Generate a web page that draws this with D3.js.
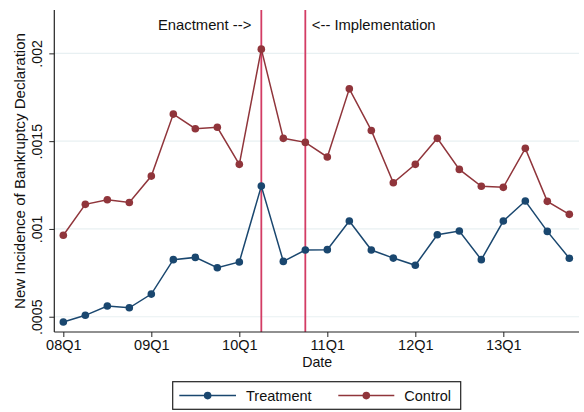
<!DOCTYPE html>
<html>
<head>
<meta charset="utf-8">
<script src="https://cdn.jsdelivr.net/npm/d3@7/dist/d3.min.js"></script>
<style>
  html, body { margin: 0; padding: 0; background: #fff; }
  svg { display: block; font-family: Arial, "Liberation Sans", Helvetica, sans-serif; }
</style>
</head>
<body>
<svg id="chart" width="584" height="412"></svg>
<script>
// Quarters 08Q1 .. 13Q4
const quarters = ["08Q1","08Q2","08Q3","08Q4","09Q1","09Q2","09Q3","09Q4",
                  "10Q1","10Q2","10Q3","10Q4","11Q1","11Q2","11Q3","11Q4",
                  "12Q1","12Q2","12Q3","12Q4","13Q1","13Q2","13Q3","13Q4"];

const treatment = [0.00047, 0.000508, 0.000561, 0.000551, 0.000629, 0.000825, 0.000838, 0.000779,
                   0.000812, 0.001244, 0.000815, 0.00088, 0.000882, 0.001045, 0.00088, 0.000834,
                   0.000793, 0.000967, 0.000988, 0.000825, 0.001045, 0.001159, 0.000986, 0.000833];

const control = [0.000964, 0.00114, 0.001166, 0.001151, 0.001301, 0.001654, 0.001571, 0.001579,
                 0.001368, 0.002024, 0.001516, 0.001493, 0.00141, 0.001798, 0.001561, 0.001263,
                 0.001368, 0.001516, 0.001339, 0.001243, 0.001237, 0.001459, 0.001157, 0.001083];

const xTickLabels = ["08Q1", "09Q1", "10Q1", "11Q1", "12Q1", "13Q1"];
const yTicks = [0.0005, 0.001, 0.0015, 0.002];
const yTickLabels = [".0005", ".001", ".0015", ".002"];

const events = [
  { quarter: "10Q2", label: "Enactment -->", side: "left" },
  { quarter: "10Q4", label: "<-- Implementation", side: "right" }
];

const seriesList = [
  { name: "Treatment", values: treatment, color: "#1a476f" },
  { name: "Control", values: control, color: "#90353b" }
];

const svg = d3.select("#chart");
const plot = { left: 54.3, right: 579, top: 10, bottom: 332 };
const fontSize = 14.5;

const qIndex = q => quarters.indexOf(q);

const x = d3.scaleLinear().domain([-0.41, 23.44]).range([plot.left, plot.right]);
const y = d3.scaleLinear().domain([0.000413, 0.002247]).range([plot.bottom, plot.top]);

// Horizontal grid lines
svg.append("g")
  .selectAll("line")
  .data(yTicks)
  .join("line")
  .attr("x1", plot.left).attr("x2", plot.right)
  .attr("y1", d => y(d)).attr("y2", d => y(d))
  .attr("stroke", "#e8f0f2").attr("stroke-width", 1.2);

// Event markers
const ev = svg.append("g");
events.forEach(e => {
  const xp = x(qIndex(e.quarter));
  ev.append("line")
    .attr("x1", xp).attr("x2", xp)
    .attr("y1", plot.top).attr("y2", plot.bottom)
    .attr("stroke", "#d33c64").attr("stroke-width", 1.8);
  ev.append("text")
    .attr("x", e.side === "left" ? xp - 10 : xp + 6.5)
    .attr("y", 25)
    .attr("dy", "0.35em")
    .attr("text-anchor", e.side === "left" ? "end" : "start")
    .attr("font-size", 14.8)
    .attr("fill", "#111")
    .text(e.label);
});

// Series lines and markers
const line = d3.line().x((d, i) => x(i)).y(d => y(d));
seriesList.forEach(s => {
  const g = svg.append("g");
  g.append("path")
    .datum(s.values)
    .attr("d", line)
    .attr("fill", "none")
    .attr("stroke", s.color)
    .attr("stroke-width", 1.5);
  g.selectAll("circle")
    .data(s.values)
    .join("circle")
    .attr("cx", (d, i) => x(i))
    .attr("cy", d => y(d))
    .attr("r", 3.8)
    .attr("fill", s.color);
});

// Y axis
const yAxis = d3.axisLeft(y)
  .tickValues(yTicks)
  .tickFormat((d, i) => yTickLabels[i])
  .tickSize(5)
  .tickSizeOuter(0);
const yg = svg.append("g")
  .attr("transform", `translate(${plot.left},0)`)
  .call(yAxis);
yg.select(".domain").attr("stroke", "#222").attr("stroke-width", 1.2)
  .attr("d", `M0,${plot.top}V${plot.bottom}`);
yg.selectAll(".tick line").attr("stroke", "#222");
yg.selectAll(".tick text")
  .attr("font-size", 14.2)
  .attr("fill", "#111")
  .attr("font-family", null)
  .attr("x", null).attr("dy", null)
  .attr("text-anchor", "middle")
  .attr("transform", "translate(-12,0) rotate(-90)")
  .attr("y", 0);

// X axis
const xAxis = d3.axisBottom(x)
  .tickValues(xTickLabels.map(qIndex))
  .tickFormat(d => quarters[d])
  .tickSize(5)
  .tickSizeOuter(0);
const xg = svg.append("g")
  .attr("transform", `translate(0,${plot.bottom})`)
  .call(xAxis);
xg.select(".domain").attr("stroke", "#222").attr("stroke-width", 1.2)
  .attr("d", `M${plot.left},0H${plot.right}`);
xg.selectAll(".tick line").attr("stroke", "#222");
xg.selectAll(".tick text")
  .attr("font-size", fontSize)
  .attr("font-family", null)
  .attr("fill", "#111")
  .attr("y", 8)
  .attr("dy", "0.71em");

// Axis titles
svg.append("text")
  .attr("x", (plot.left + 579) / 2 + 0.5)
  .attr("y", 367)
  .attr("text-anchor", "middle")
  .attr("font-size", 14.2)
  .attr("fill", "#111")
  .text("Date");

svg.append("text")
  .attr("transform", `translate(24.5,${(plot.top + plot.bottom) / 2}) rotate(-90)`)
  .attr("text-anchor", "middle")
  .attr("font-size", 15.1)
  .attr("fill", "#111")
  .text("New Incidence of Bankruptcy Declaration");

// Legend
const legend = svg.append("g");
legend.append("rect")
  .attr("x", 172.7).attr("y", 381.7)
  .attr("width", 288).attr("height", 27.6)
  .attr("fill", "#fff").attr("stroke", "#222").attr("stroke-width", 1.2);
const legendItems = [
  { s: seriesList[0], x0: 179.3, x1: 236, tx: 246 },
  { s: seriesList[1], x0: 338.3, x1: 394.3, tx: 404.3 }
];
const ly = 395.6;
legendItems.forEach(it => {
  legend.append("line")
    .attr("x1", it.x0).attr("x2", it.x1)
    .attr("y1", ly).attr("y2", ly)
    .attr("stroke", it.s.color).attr("stroke-width", 1.5);
  legend.append("circle")
    .attr("cx", (it.x0 + it.x1) / 2).attr("cy", ly).attr("r", 3.8)
    .attr("fill", it.s.color);
  legend.append("text")
    .attr("x", it.tx).attr("y", ly)
    .attr("dy", "0.35em")
    .attr("font-size", fontSize)
    .attr("fill", "#111")
    .text(it.s.name);
});
</script>
</body>
</html>
